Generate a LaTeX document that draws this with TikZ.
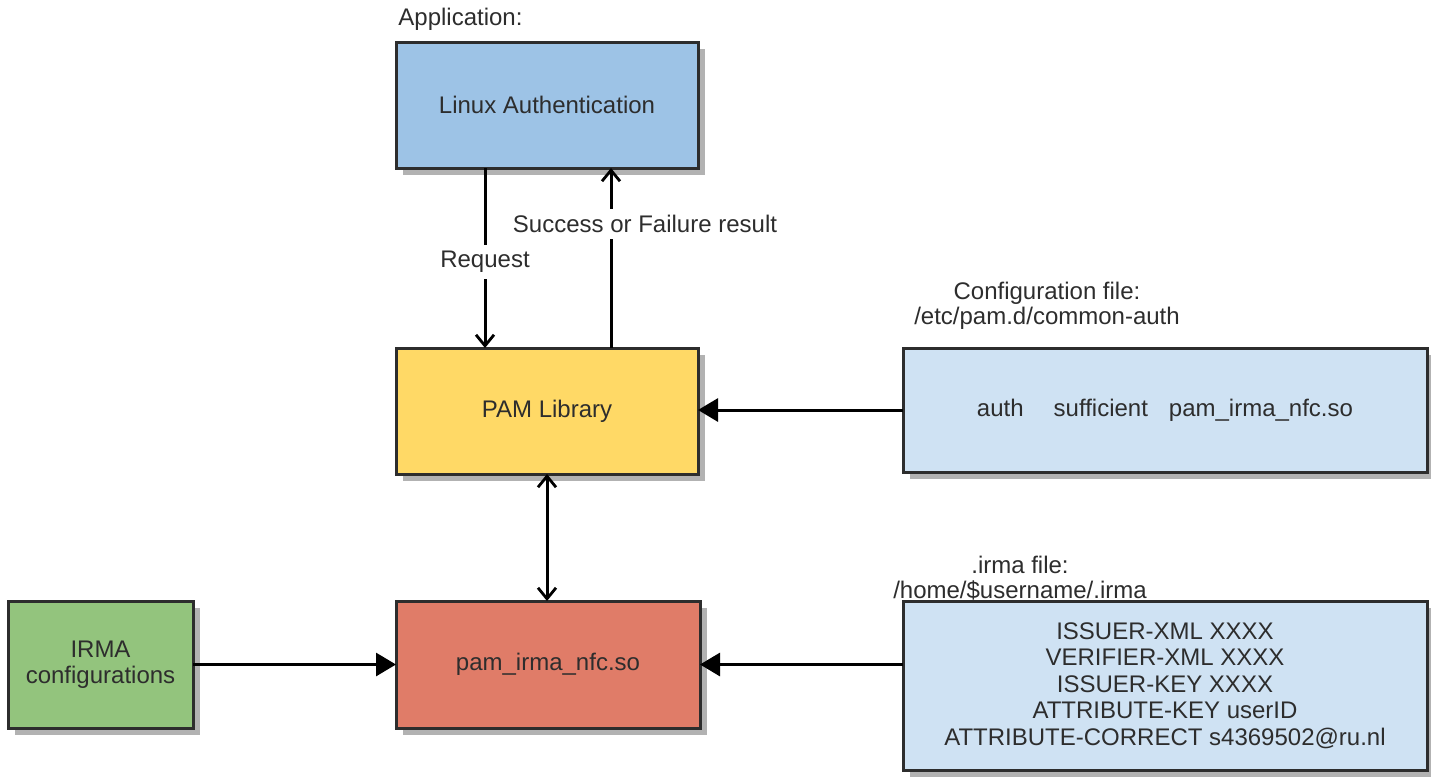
\documentclass[tikz,border=0pt]{standalone}
\usepackage{fontspec}
\setmainfont{Liberation Sans}
\usetikzlibrary{shadows,arrows.meta}
\definecolor{linuxblue}{RGB}{157,195,230}
\definecolor{pamyellow}{RGB}{255,217,102}
\definecolor{irmared}{RGB}{224,124,104}
\definecolor{irmagreen}{RGB}{147,196,125}
\definecolor{lightblue}{RGB}{207,226,243}
\definecolor{txt}{RGB}{45,45,45}
\definecolor{bord}{RGB}{45,45,45}
\tikzset{
  box/.style={draw=bord, line width=1.5pt, inner sep=2pt, outer sep=0pt, align=center,
    text=txt, font=\fontsize{12}{13.25}\selectfont,
    drop shadow={shadow xshift=3.5pt, shadow yshift=-3.5pt, fill=black!30, opacity=1}},
  lbl/.style={text=txt, font=\fontsize{12}{12.5}\selectfont, inner sep=1pt, align=center},
  barb/.tip={Straight Barb[length=5.5pt,width=9pt,line width=1.4pt]},
  varrow/.style={line width=1.5pt, draw=black, -barb},
  vboth/.style={line width=1.5pt, draw=black, barb-barb},
  harrow/.style={line width=1.5pt, draw=black, -{Triangle[length=10pt,width=11.5pt]}}
}
\begin{document}
\begin{tikzpicture}[x=0.5pt,y=-0.5pt]
\useasboundingbox[fill=white] (0,0) rectangle (1431,778);
% boxes
\node[box, fill=linuxblue, minimum width=151pt, minimum height=63pt] (lin) at (547,105) {Linux Authentication};
\node[box, fill=pamyellow, minimum width=151pt, minimum height=63pt] (pam) at (547,411) {PAM Library};
\node[box, fill=irmared, minimum width=152pt, minimum height=63.5pt] (red) at (548,664.5) {pam\_irma\_nfc.so};
\node[box, fill=irmagreen, minimum width=92.5pt, minimum height=63.5pt] (grn) at (100.5,664.5) {IRMA\\configurations};
\node[box, fill=lightblue, minimum width=262pt, minimum height=62pt] (cfg) at (1165,410) {auth\hspace{15pt}sufficient\hspace{10.5pt}pam\_irma\_nfc.so};
\node[box, fill=lightblue, minimum width=262pt, minimum height=84.5pt] (irma) at (1165,685.5)
  {ISSUER-XML XXXX\\VERIFIER-XML XXXX\\ISSUER-KEY XXXX\\ATTRIBUTE-KEY userID\\ATTRIBUTE-CORRECT s4369502@ru.nl};
% free labels
\node[lbl, anchor=base west] (app) at (396,25) {Application:};
\node[lbl] (cfglbl) at (1047,306) {Configuration file:\\/etc/pam.d/common-auth};
\node[lbl] (irmalbl) at (1020,578) {.irma file:\\/home/\$username/.irma};
% connectors
\coordinate (rq) at (485,0);
\coordinate (sc) at (611,0);
\draw[varrow] (lin.south -| rq) -- (pam.north -| rq);
\node[lbl, fill=white, inner sep=3pt] (reqlbl) at (485,262) {Request};
\draw[varrow] (pam.north -| sc) -- (lin.south -| sc);
\node[lbl, fill=white, inner sep=3pt] (suclbl) at (645,224) {Success or Failure result};
\draw[vboth] (pam.south) -- (pam.south |- red.north);
\draw[harrow] (cfg.west) -- (pam.east |- cfg.west);
\draw[harrow] (irma.west |- red.east) -- (red.east);
\draw[harrow] (grn.east) -- (red.west);
\end{tikzpicture}
\end{document}
